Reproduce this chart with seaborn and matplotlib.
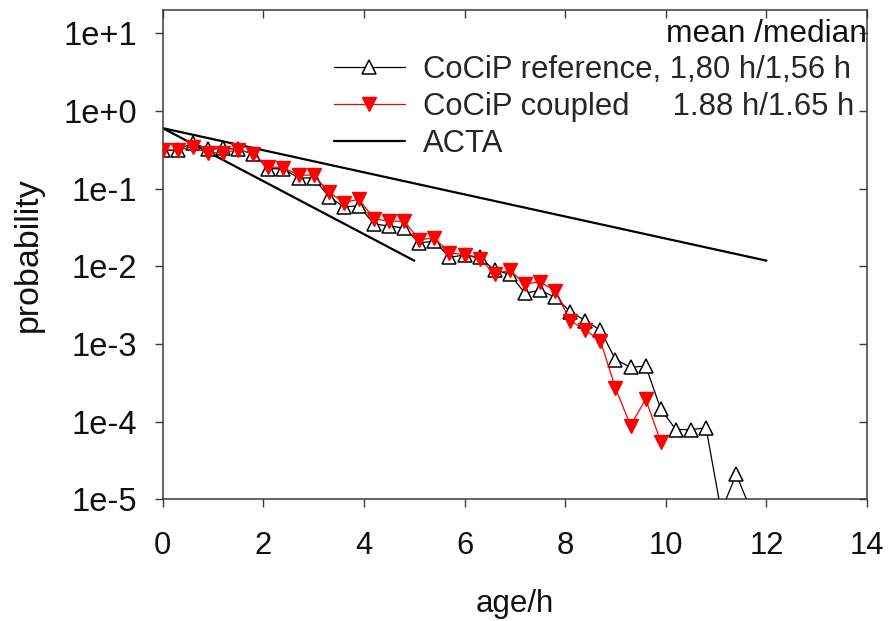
import matplotlib
matplotlib.use("Agg")
import matplotlib.pyplot as plt
import matplotlib.ticker as mticker
import seaborn as sns
import numpy as np

# ---------------- data ----------------
t_ref = [0.0, 0.3, 0.6, 0.9, 1.2, 1.5, 1.8, 2.1, 2.4, 2.7,
         3.0, 3.3, 3.6, 3.9, 4.2, 4.5, 4.8, 5.1, 5.4, 5.7,
         6.0, 6.3, 6.6, 6.9, 7.2, 7.5, 7.8, 8.1, 8.4, 8.7,
         9.0, 9.3, 9.6, 9.9, 10.2, 10.5, 10.8, 11.1, 11.4, 11.7]
p_ref = [0.31, 0.31, 0.39, 0.32, 0.33, 0.32, 0.28, 0.18, 0.18, 0.137,
         0.137, 0.079, 0.058, 0.060, 0.035, 0.033, 0.031, 0.020, 0.021, 0.013,
         0.014, 0.013, 0.0089, 0.0079, 0.0045, 0.0049, 0.0040, 0.0026, 0.0020, 0.0015,
         0.00063, 0.00050, 0.00052, 0.000145, 0.000079, 0.000079, 0.000083, 7e-6, 2.1e-5, 7e-6]

t_cpl = [0.0, 0.3, 0.6, 0.9, 1.2, 1.5, 1.8, 2.1, 2.4, 2.7,
         3.0, 3.3, 3.6, 3.9, 4.2, 4.5, 4.8, 5.1, 5.4, 5.7,
         6.0, 6.3, 6.6, 6.9, 7.2, 7.5, 7.8, 8.1, 8.4, 8.7,
         9.0, 9.3, 9.6, 9.9]
p_cpl = [0.315, 0.315, 0.34, 0.29, 0.29, 0.315, 0.28, 0.19, 0.186, 0.149,
         0.149, 0.091, 0.066, 0.073, 0.041, 0.038, 0.038, 0.022, 0.023, 0.015,
         0.014, 0.0125, 0.0080, 0.0089, 0.0059, 0.0063, 0.0048, 0.0020, 0.0015, 0.0011,
         0.00027, 0.000089, 0.000195, 0.000055]

t_acta_slow = [0.0, 12.0]
p_acta_slow = [0.6, 0.0118]
t_acta_fast = [0.0, 5.0]
p_acta_fast = [0.6, 0.0118]

label_ref = "CoCiP reference, 1,80 h/1,56 h"
label_cpl = "CoCiP coupled     1.88 h/1.65 h"
label_acta = "ACTA"
header = "mean /median"

x_ticks = [0, 2, 4, 6, 8, 10, 12, 14]
y_ticks = [1e-5, 1e-4, 1e-3, 1e-2, 1e-1, 1e0, 1e1]

# ---------------- style ----------------
sns.set_style("ticks")
plt.rcParams["font.family"] = ["Liberation Sans", "DejaVu Sans"]
FS = 22.3

fig = plt.figure(figsize=(8.88, 6.21), dpi=100)
ax = fig.add_axes([0.1832, 0.196, 0.9764 - 0.1832, 0.9847 - 0.196])

sns.lineplot(x=t_acta_slow, y=p_acta_slow, ax=ax, color="black", lw=1.6,
             label=label_acta, zorder=2)
sns.lineplot(x=t_acta_fast, y=p_acta_fast, ax=ax, color="black", lw=1.6,
             zorder=2)
sns.lineplot(x=t_ref, y=p_ref, ax=ax, color="black", lw=0.9, marker="^",
             markersize=9.5, markerfacecolor="white", markeredgecolor="black",
             markeredgewidth=1.1, label=label_ref, zorder=3)
sns.lineplot(x=t_cpl, y=p_cpl, ax=ax, color="#ff0000", lw=0.9, marker="v",
             markersize=9.5, markerfacecolor="#ff0000", markeredgecolor="#ff0000",
             markeredgewidth=1.0, label=label_cpl, zorder=4)

ax.set_yscale("log")
ax.set_xlim(0, 14)
ax.set_ylim(1e-5, 20.2)
ax.set_xticks(x_ticks)
ax.set_xticklabels([str(v) for v in x_ticks])
ax.set_yticks(y_ticks)
ax.yaxis.set_major_formatter(mticker.FuncFormatter(
    lambda v, pos: "1e%+d" % int(round(np.log10(v)))))
ax.yaxis.set_minor_locator(mticker.NullLocator())

spine_c = "#3a3a3a"
for s in ax.spines.values():
    s.set_visible(True)
    s.set_color(spine_c)
    s.set_linewidth(1.1)
ax.tick_params(axis="both", which="major", direction="out", length=5.5,
               width=1.0, color=spine_c, labelcolor="#111111")
ax.tick_params(axis="y", pad=13, labelsize=23.5)
ax.tick_params(axis="x", pad=17.5, labelsize=FS)

# inward ticks on top and right
top = ax.secondary_xaxis("top")
top.set_xticks(x_ticks)
top.tick_params(direction="in", length=5.5, width=1.0, color=spine_c,
                labeltop=False)
top.spines["top"].set_visible(False)
right = ax.secondary_yaxis("right")
right.set_yticks(y_ticks)
right.yaxis.set_minor_locator(mticker.NullLocator())
right.tick_params(direction="in", length=5.5, width=1.0, color=spine_c,
                  labelright=False)
right.spines["right"].set_visible(False)

ax.set_xlabel("age/h", fontsize=22.5, labelpad=20, color="#111111")
ax.set_ylabel("probability", fontsize=24.5, labelpad=14, color="#111111")

handles, labels = ax.get_legend_handles_labels()
order = [labels.index(label_ref), labels.index(label_cpl), labels.index(label_acta)]
leg = ax.legend([handles[i] for i in order], [labels[i] for i in order],
                loc="upper left", bbox_to_anchor=(334 / 888, 1 - 55 / 621),
                bbox_transform=fig.transFigure, frameon=False, fontsize=FS,
                borderpad=0, borderaxespad=0, handlelength=2.28,
                handletextpad=0.58, labelspacing=0.22)

fig.text(666 / 888, 1 - 34 / 621, header, fontsize=22.8, va="center",
         ha="left", color="#111111")

fig.savefig("out.png", dpi=100)
